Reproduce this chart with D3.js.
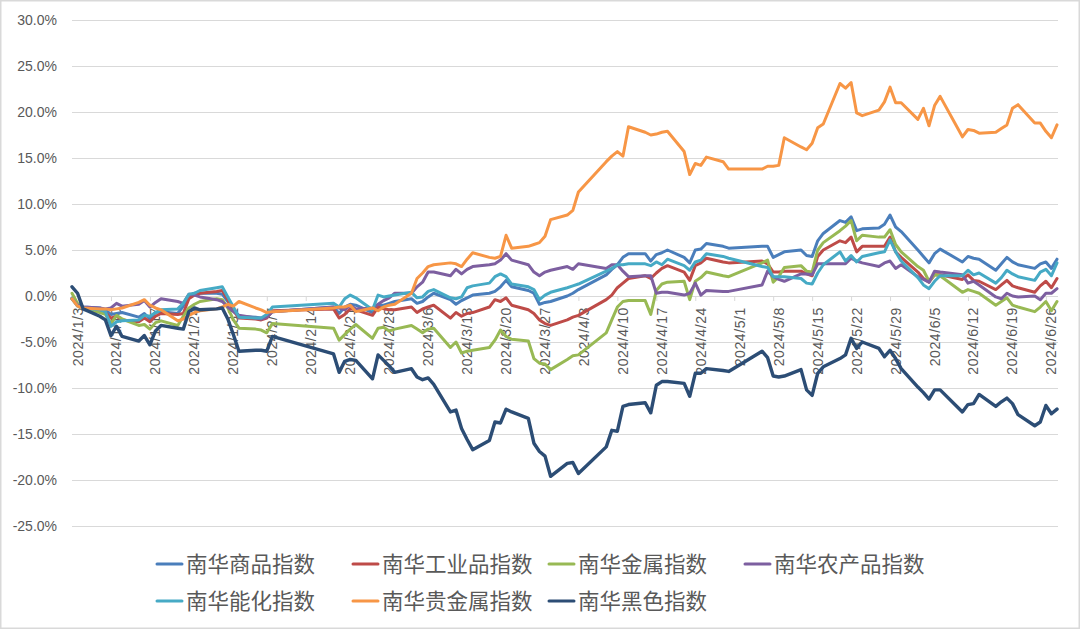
<!DOCTYPE html>
<html>
<head>
<meta charset="utf-8">
<script src="https://cdn.jsdelivr.net/npm/d3@7"></script>
<style>
  html, body { margin: 0; padding: 0; background: #fff; }
  svg { display: block; }
</style>
</head>
<body>
<svg id="chart" width="1080" height="629"></svg>
<script>
// ---- Data (percent change since start of 2024) ----
const dates = [
  "2024-01-03","2024-01-04","2024-01-05","2024-01-08","2024-01-09","2024-01-10","2024-01-11","2024-01-12","2024-01-15","2024-01-16","2024-01-17","2024-01-18","2024-01-19","2024-01-22","2024-01-23","2024-01-24","2024-01-25","2024-01-26","2024-01-29","2024-01-30","2024-01-31",
  "2024-02-01","2024-02-02","2024-02-05","2024-02-06","2024-02-07","2024-02-08","2024-02-19","2024-02-20","2024-02-21","2024-02-22","2024-02-23","2024-02-26","2024-02-27","2024-02-28","2024-02-29",
  "2024-03-01","2024-03-04","2024-03-05","2024-03-06","2024-03-07","2024-03-08","2024-03-11","2024-03-12","2024-03-13","2024-03-14","2024-03-15","2024-03-18","2024-03-19","2024-03-20","2024-03-21","2024-03-22","2024-03-25","2024-03-26","2024-03-27","2024-03-28","2024-03-29",
  "2024-04-01","2024-04-02","2024-04-03","2024-04-08","2024-04-09","2024-04-10","2024-04-11","2024-04-12","2024-04-15","2024-04-16","2024-04-17","2024-04-18","2024-04-19","2024-04-22","2024-04-23","2024-04-24","2024-04-25","2024-04-26","2024-04-29","2024-04-30",
  "2024-05-06","2024-05-07","2024-05-08","2024-05-09","2024-05-10","2024-05-13","2024-05-14","2024-05-15","2024-05-16","2024-05-17","2024-05-20","2024-05-21","2024-05-22","2024-05-23","2024-05-24","2024-05-27","2024-05-28","2024-05-29","2024-05-30","2024-05-31",
  "2024-06-03","2024-06-04","2024-06-05","2024-06-06","2024-06-07","2024-06-11","2024-06-12","2024-06-13","2024-06-14","2024-06-17","2024-06-18","2024-06-19","2024-06-20","2024-06-21","2024-06-24","2024-06-25","2024-06-26","2024-06-27","2024-06-28"
];

const commodity = [
  -0.2,-1.0,-1.2,-1.3,-1.5,-2.0,-1.9,-1.8,-2.3,-1.9,-2.5,-1.8,-1.7,-1.9,-1.1,0.0,0.3,0.3,0.3,0.2,-0.6,
  -1.4,-2.2,-2.3,-2.4,-2.3,-1.7,-1.2,-1.9,-1.2,-0.9,-1.0,-1.8,-1.0,-1.0,-0.8,
  -0.6,-0.3,-0.8,-0.6,-0.1,0.3,-0.4,-0.9,-0.5,-0.2,0.1,0.3,0.5,1.0,1.7,1.0,0.6,0.3,-0.9,-0.7,-0.6,
  0.0,0.3,0.7,2.3,2.9,3.4,4.2,4.6,4.6,3.8,4.5,4.7,5.0,4.2,3.6,5.0,5.1,5.7,5.4,5.2,
  5.4,5.4,4.2,4.5,4.8,5.0,4.4,4.3,6.0,6.8,8.2,8.0,8.6,7.1,7.3,7.4,7.8,8.8,7.5,7.0,
  5.0,4.3,3.6,4.6,5.1,3.7,4.3,4.1,4.0,2.8,3.5,4.2,3.7,3.4,3.0,3.5,3.7,3.0,4.0
];
const industrial = [
  -0.3,-1.0,-1.3,-1.6,-1.8,-2.4,-2.2,-2.6,-2.8,-2.4,-2.8,-2.2,-1.9,-2.0,-1.9,-0.3,0.1,0.3,0.5,0.6,-0.4,
  -1.6,-2.4,-2.5,-2.6,-2.4,-1.6,-1.4,-2.4,-2.0,-1.4,-1.5,-2.1,-1.2,-1.4,-1.5,
  -1.5,-1.2,-1.8,-1.4,-1.2,-1.0,-2.4,-1.8,-2.2,-1.9,-1.8,-1.2,-0.4,-0.6,-0.2,-1.0,-1.5,-1.9,-2.6,-3.0,-3.2,
  -2.6,-2.3,-2.1,-0.4,0.1,0.9,1.4,1.9,2.2,1.9,2.5,3.0,3.3,2.6,1.7,3.3,3.6,4.1,3.7,3.6,
  3.8,3.5,2.6,2.6,2.7,2.7,2.4,2.2,4.3,5.0,6.0,5.8,6.4,4.8,5.4,5.4,5.4,6.4,4.8,4.2,
  2.6,1.9,1.5,2.3,2.3,1.8,2.3,1.7,1.6,0.7,1.2,1.7,1.1,0.9,0.4,1.1,1.6,0.9,1.9
];
const metals = [
  0.3,-0.8,-1.3,-1.8,-2.0,-3.0,-2.1,-2.5,-3.2,-3.1,-3.6,-2.9,-2.7,-3.2,-2.2,-1.3,-0.9,-0.6,-0.3,-0.4,-1.3,
  -2.6,-3.5,-3.6,-3.7,-4.0,-3.0,-3.5,-4.8,-4.2,-3.6,-3.1,-4.6,-3.5,-3.4,-3.8,
  -3.6,-3.2,-3.6,-4.0,-3.6,-3.5,-5.6,-5.0,-6.2,-6.0,-5.9,-5.6,-4.8,-3.7,-4.4,-4.7,-4.9,-6.8,-7.3,-7.4,-8.0,
  -6.9,-6.5,-6.4,-4.0,-2.6,-1.2,-0.6,-0.5,-0.5,-2.0,0.6,1.3,1.5,1.6,-0.4,1.6,2.0,2.6,2.2,2.1,
  3.6,3.9,1.5,2.1,3.1,3.3,2.7,2.6,5.0,5.8,7.1,7.6,8.2,6.0,6.6,6.4,6.4,7.2,5.6,4.8,
  3.2,2.8,1.6,2.3,2.2,0.4,0.7,0.5,0.3,-1.0,-0.6,-0.2,-1.0,-1.2,-1.7,-1.2,-0.6,-1.6,-0.6
];
const agri = [
  -0.3,-1.0,-1.2,-1.3,-1.4,-1.3,-0.8,-1.1,-0.9,-0.5,-1.2,-0.7,-0.3,-0.6,-0.8,0.2,0.1,-0.1,-0.4,-0.6,-1.2,
  -1.7,-2.1,-2.4,-2.5,-2.3,-1.7,-1.2,-1.3,-1.5,-1.0,-1.4,-1.3,-0.9,-0.5,-0.2,
  0.3,0.3,1.0,1.5,2.6,2.6,2.2,2.9,2.4,2.9,3.2,3.4,3.5,3.9,4.6,3.9,3.4,2.6,2.2,2.6,2.8,
  3.2,2.9,3.5,3.0,3.4,3.4,2.7,2.1,2.2,2.2,0.3,0.4,0.4,0.1,0.3,1.4,0.1,0.6,0.5,0.5,
  1.2,2.7,2.1,1.8,1.6,2.4,2.4,2.3,3.5,3.5,3.5,3.5,4.1,3.8,3.6,3.2,3.6,3.8,3.0,3.4,
  2.1,1.8,1.5,2.7,2.6,2.3,1.4,1.6,1.2,-0.1,-0.3,0.3,0.0,-0.1,0.0,-0.4,0.3,0.3,0.8
];
const energyChem = [
  -0.3,-1.1,-1.3,-1.5,-1.7,-3.3,-2.8,-2.7,-2.6,-2.1,-2.2,-1.8,-1.5,-1.4,-0.8,0.2,0.3,0.6,0.9,1.0,-0.1,
  -1.2,-2.3,-2.4,-2.4,-2.0,-1.2,-0.8,-1.2,-0.3,0.1,-0.2,-1.5,0.1,-0.1,0.0,
  0.1,0.4,-0.2,-0.1,0.5,0.7,-0.2,-0.3,-0.1,0.9,1.1,1.4,2.1,2.4,2.1,1.3,1.0,0.7,-0.4,0.1,0.4,
  0.9,1.1,1.3,2.7,3.0,3.4,3.4,3.5,3.5,3.3,3.7,3.4,4.0,3.3,2.8,3.7,3.9,4.6,4.3,4.1,
  3.2,3.1,2.1,2.1,2.1,1.9,1.4,1.3,2.5,3.4,4.8,3.8,4.4,3.7,4.3,4.7,4.8,6.1,4.8,3.8,
  2.0,1.2,0.8,1.6,2.2,2.2,2.8,2.3,2.5,1.4,2.0,2.8,2.4,2.1,1.7,2.6,2.9,2.2,3.6
];
const preciousMetals = [
  -0.3,-1.1,-1.3,-1.4,-1.4,-1.5,-1.4,-1.3,-0.7,-0.4,-1.0,-1.3,-1.5,-2.7,-2.5,-2.1,-1.8,-1.6,-1.4,-1.2,-0.9,
  -1.1,-0.6,-1.3,-1.5,-1.8,-1.7,-1.3,-1.2,-1.2,-1.0,-1.7,-1.3,-1.6,-1.2,-1.0,
  -0.9,0.3,1.9,2.5,3.2,3.4,3.6,3.5,3.2,4.0,4.7,4.2,4.1,4.3,6.6,5.2,5.4,5.6,5.8,6.5,8.3,
  8.8,9.3,11.3,14.6,15.2,15.7,15.2,18.4,17.8,17.5,17.6,17.8,17.9,15.7,13.2,14.4,14.2,15.1,14.6,13.8,
  13.8,14.1,14.1,14.2,17.2,16.2,15.9,16.6,18.3,18.7,23.1,22.6,23.2,19.9,19.6,20.2,21.1,22.7,21.0,21.0,
  19.2,20.4,18.5,20.7,21.7,17.3,18.1,18.0,17.7,17.8,18.2,18.6,20.4,20.8,18.8,18.8,17.9,17.2,18.6
];
const ferrous = [
  1.0,0.3,-1.4,-2.2,-2.6,-4.3,-3.3,-4.4,-4.9,-4.3,-5.3,-3.8,-3.2,-3.5,-3.6,-1.7,-1.3,-1.5,-1.4,-1.3,-2.5,
  -4.2,-6.0,-5.9,-5.9,-6.0,-4.4,-6.3,-8.3,-7.1,-6.9,-7.0,-9.0,-6.4,-7.0,-7.6,
  -8.3,-7.9,-8.8,-9.1,-8.9,-9.6,-12.6,-12.4,-14.4,-15.6,-16.7,-15.7,-13.7,-13.8,-12.3,-12.6,-13.3,-16.0,-16.9,-17.4,-19.6,
  -18.2,-18.1,-19.3,-16.4,-14.6,-14.7,-12.0,-11.8,-11.6,-12.7,-9.7,-9.3,-9.3,-9.5,-10.9,-8.4,-8.4,-7.9,-8.1,-8.2,
  -6.0,-6.7,-8.7,-8.8,-8.7,-8.0,-10.2,-10.8,-8.4,-7.7,-6.8,-6.4,-4.6,-5.7,-5.0,-5.7,-6.6,-5.9,-6.8,-7.9,
  -9.9,-10.5,-11.2,-10.2,-10.2,-12.6,-11.8,-11.7,-10.7,-12.0,-11.5,-11.1,-11.7,-12.9,-14.1,-13.7,-11.9,-12.8,-12.3
];

const seriesNames = ["南华商品指数","南华工业品指数","南华金属指数","南华农产品指数","南华能化指数","南华贵金属指数","南华黑色指数"];
const seriesValues = [commodity, industrial, metals, agri, energyChem, preciousMetals, ferrous];
const seriesColors = ["#4A7EBB","#BE4B48","#98B954","#7D5FA0","#46AAC5","#F79646","#2C4D75"];
const yTickValues = [-25,-20,-15,-10,-5,0,5,10,15,20,25,30];

// ---- Drawing ----
const W = 1080, H = 629;
const svg = d3.select("#chart");
const parse = d3.timeParse("%Y-%m-%d");
const dateObjs = dates.map(parse);

const plotLeft = 72, plotRight = 1057, plotTop = 20, plotBottom = 526;

const x = d3.scaleTime()
  .domain([dateObjs[0], dateObjs[dateObjs.length - 1]])
  .range([plotLeft, plotRight]);
const y = d3.scaleLinear().domain([-25, 30]).range([plotBottom, plotTop]);

// chart border
svg.append("rect")
  .attr("x", 0.75).attr("y", 0.75)
  .attr("width", W - 1.5).attr("height", H - 1.5)
  .attr("fill", "#fff").attr("stroke", "#d9d9d9").attr("stroke-width", 1.5);

// gridlines
const grid = svg.append("g")
  .attr("transform", `translate(${plotLeft},0)`)
  .call(d3.axisLeft(y).tickValues(yTickValues).tickSize(-(plotRight - plotLeft + 1)).tickFormat(""));
grid.select(".domain").remove();
grid.selectAll(".tick line").attr("stroke", "#d9d9d9").attr("stroke-width", 1);

// y labels
const yAxis = svg.append("g")
  .attr("transform", `translate(${plotLeft},0)`)
  .call(d3.axisLeft(y).tickValues(yTickValues).tickSize(0).tickPadding(15)
    .tickFormat(d => d.toFixed(1) + "%"));
yAxis.select(".domain").remove();
yAxis.selectAll("text")
  .attr("fill", "#595959")
  .style("font-family", "'Liberation Sans', Arial, sans-serif")
  .style("font-size", "14px");

// x axis at zero line
const xTicks = d3.timeDay.range(dateObjs[0], d3.timeDay.offset(dateObjs[dateObjs.length - 1], 1), 7);
const xAxis = svg.append("g")
  .attr("transform", `translate(0,${y(0)})`)
  .call(d3.axisBottom(x).tickValues(xTicks).tickSize(5)
    .tickFormat(d => `${d.getFullYear()}/${d.getMonth() + 1}/${d.getDate()}`));
xAxis.select(".domain").attr("stroke", "#d9d9d9").attr("d", `M${plotLeft},0.5H${plotRight + 1}`);
xAxis.selectAll(".tick line").attr("stroke", "#d9d9d9");
xAxis.selectAll("text")
  .attr("fill", "#595959")
  .attr("transform", "rotate(-90)")
  .attr("text-anchor", "end")
  .attr("x", -11)
  .attr("y", 10)
  .attr("dy", 0)
  .style("font-family", "'Liberation Sans', Arial, sans-serif")
  .style("font-size", "14px")
  .style("letter-spacing", "0.6px");

// lines
const line = d3.line()
  .x((d, i) => x(dateObjs[i]))
  .y(d => y(d));
const lines = svg.append("g");
seriesValues.forEach((vals, k) => {
  lines.append("path")
    .datum(vals)
    .attr("d", line)
    .attr("fill", "none")
    .attr("stroke", seriesColors[k])
    .attr("stroke-width", k === 6 ? 3.4 : 3)
    .attr("stroke-linejoin", "round")
    .attr("stroke-linecap", "round");
});

// legend
const legend = svg.append("g");
const colW = 196, legX = 157, rowY = [564, 601];
seriesNames.forEach((name, k) => {
  const col = k < 4 ? k : k - 4;
  const row = k < 4 ? 0 : 1;
  const gx = legX + col * colW, gy = rowY[row];
  const g = legend.append("g").attr("transform", `translate(${gx},${gy})`);
  g.append("line").attr("x1", 0).attr("x2", 25).attr("y1", 0).attr("y2", 0)
    .attr("stroke", seriesColors[k]).attr("stroke-width", 3).attr("stroke-linecap", "round");
  g.append("text").attr("x", 29).attr("y", 0).attr("dy", "0.36em")
    .attr("fill", "#595959")
    .style("font-family", "'Noto Sans CJK SC', sans-serif")
    .style("font-size", "21.5px")
    .text(name);
});
</script>
</body>
</html>
